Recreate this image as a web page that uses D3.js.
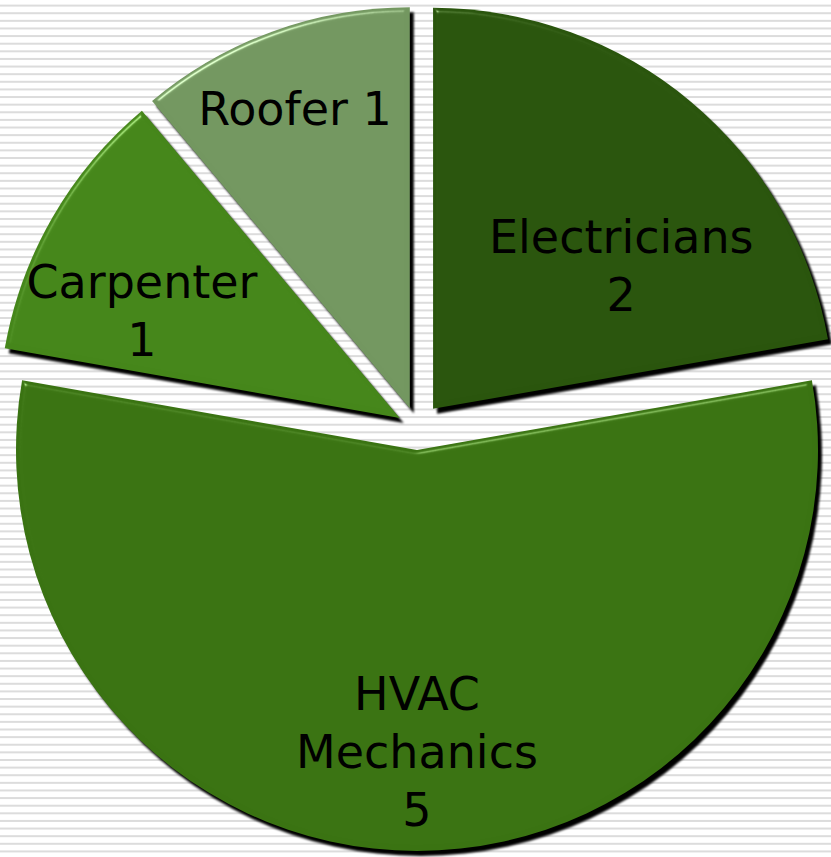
<!DOCTYPE html>
<html>
<head>
<meta charset="utf-8">
<script src="https://cdn.jsdelivr.net/npm/d3@7"></script>
<style>
  html, body { margin: 0; padding: 0; background: #fff; }
  svg { display: block; }
</style>
</head>
<body>
<script>

let width = 831;
let height = 857;

// data
let categories = ["Electricians", "HVAC Mechanics", "Carpenter", "Roofer"];
let values = [2, 5, 1, 1];
let labelLines = [["Electricians", "2"], ["HVAC", "Mechanics", "5"], ["Carpenter", "1"], ["Roofer 1"]];
let colors = ["#2a550d", "#3a7312", "#45861a", "#739760"];

// layout
let cx = 417, cy = 428, radius = 401;
let explode = [25, 22, 20, 21];
let labelPos = [[51.5, 261], [180, 323.5], [293.1, 299], [339.1, 342]]; // [deg, r] from centre
let lineHeight = 58;

let svg = d3.select("body").append("svg")
    .attr("width", width)
    .attr("height", height);

svg.append("rect")
    .attr("width", width)
    .attr("height", height)
    .attr("fill", "#fff");

// striped background
svg.append("g")
    .selectAll("rect")
    .data(d3.range(0, 113))
    .enter()
    .append("rect")
    .attr("x", 0)
    .attr("y", i => 4.6 + i * 7.62)
    .attr("width", width)
    .attr("height", 2)
    .attr("fill", "#dcdcdc");

// bevel + drop shadow
let defs = svg.append("defs");
let f = defs.append("filter")
    .attr("id", "bevel")
    .attr("color-interpolation-filters", "sRGB")
    .attr("x", "-10%").attr("y", "-10%")
    .attr("width", "120%").attr("height", "120%");
f.append("feGaussianBlur").attr("in", "SourceAlpha").attr("stdDeviation", 2.5).attr("result", "blur");
f.append("feSpecularLighting")
    .attr("in", "blur")
    .attr("surfaceScale", 3)
    .attr("specularConstant", 0.55)
    .attr("specularExponent", 60)
    .attr("lighting-color", "#ffffff")
    .attr("result", "spec")
    .append("feDistantLight").attr("azimuth", 240).attr("elevation", 45);
f.append("feComposite").attr("in", "spec").attr("in2", "SourceAlpha").attr("operator", "in").attr("result", "specIn");
f.append("feComposite").attr("in", "SourceGraphic").attr("in2", "specIn")
    .attr("operator", "arithmetic").attr("k1", 0).attr("k2", 1).attr("k3", 0.8).attr("k4", 0)
    .attr("result", "lit");
f.append("feOffset").attr("in", "SourceAlpha").attr("dx", 4).attr("dy", 5).attr("result", "off");
f.append("feGaussianBlur").attr("in", "off").attr("stdDeviation", 0.9).attr("result", "offBlur");
f.append("feFlood").attr("flood-color", "#000").attr("flood-opacity", 1).attr("result", "col");
f.append("feComposite").attr("in", "col").attr("in2", "offBlur").attr("operator", "in").attr("result", "shadow");
let merge = f.append("feMerge");
merge.append("feMergeNode").attr("in", "shadow");
merge.append("feMergeNode").attr("in", "lit");

let pie = d3.pie().sort(null).value(d => d);
let arcs = pie(values);

let arc = d3.arc()
    .innerRadius(0)
    .outerRadius(radius);

let slices = svg.append("g")
    .attr("transform", "translate(" + cx + "," + cy + ")");

slices.selectAll("path")
    .data(arcs)
    .enter()
    .append("path")
    .attr("transform", function (d, i) {
        let mid = (d.startAngle + d.endAngle) / 2;
        return "translate(" + (Math.sin(mid) * explode[i]) + "," + (-Math.cos(mid) * explode[i]) + ")";
    })
    .attr("d", arc)
    .attr("fill", (d, i) => colors[i])
    .attr("filter", "url(#bevel)");

// labels
let labels = slices.selectAll("text")
    .data(arcs)
    .enter()
    .append("text")
    .attr("text-anchor", "middle")
    .attr("font-family", "'DejaVu Sans', Verdana, sans-serif")
    .attr("font-size", 46)
    .attr("fill", "#000")
    .attr("transform", function (d, i) {
        let a = labelPos[i][0] * Math.PI / 180;
        let r = labelPos[i][1];
        return "translate(" + (Math.sin(a) * r) + "," + (-Math.cos(a) * r) + ")";
    });

labels.each(function (d, i) {
    let lines = labelLines[i];
    let t = d3.select(this);
    lines.forEach(function (line, j) {
        t.append("tspan")
            .attr("x", 0)
            .attr("y", (j - (lines.length - 1) / 2) * lineHeight + 16.5)
            .text(line);
    });
});

</script>
</body>
</html>
